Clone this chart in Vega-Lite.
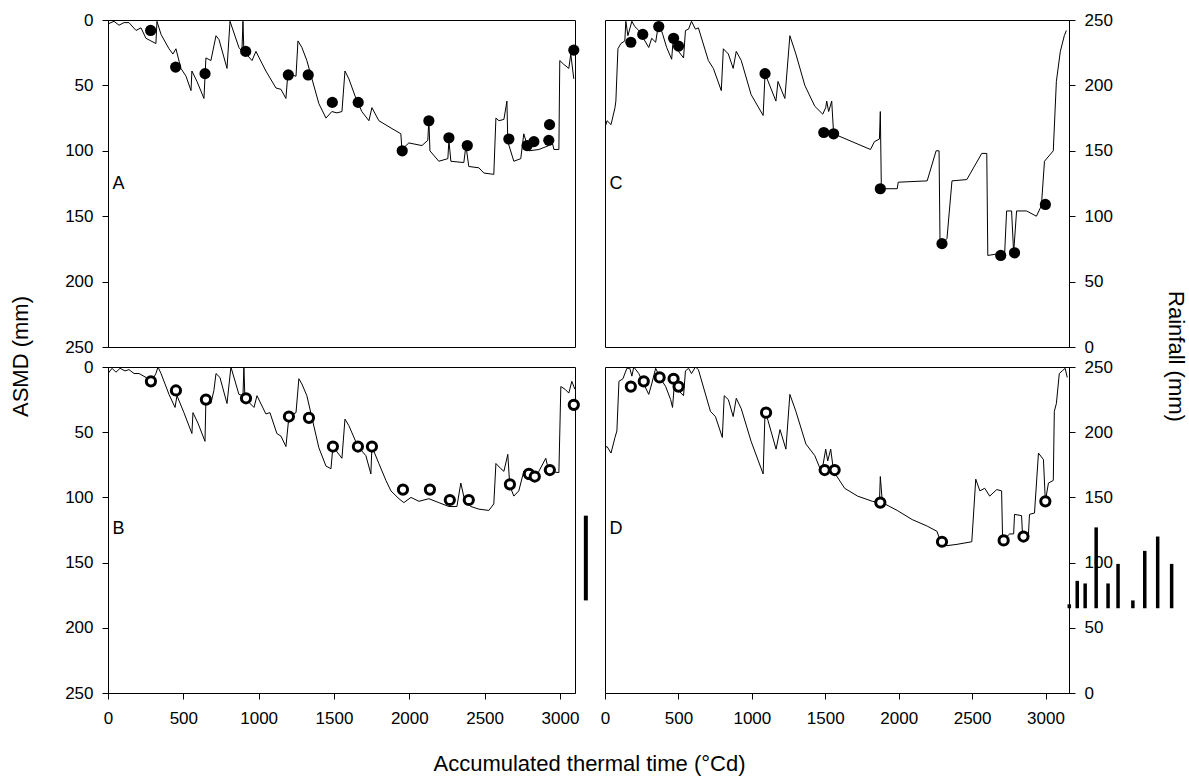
{
  "$schema": "https://vega.github.io/schema/vega-lite/v6.json",
  "background": "white",
  "padding": {"left": 8, "top": 10, "right": 5, "bottom": 5},
  "config": {
    "font": "Liberation Sans",
    "view": {"stroke": "black", "strokeWidth": 1},
    "axis": {"domainColor": "black", "tickColor": "black", "labelColor": "black", "titleColor": "black", "grid": false, "labelFontSize": 17, "titleFontSize": 22, "titleFontWeight": "normal", "tickSize": 6, "labelPadding": 9, "labelFlush": false, "labelOverlap": false, "domainWidth": 1, "tickWidth": 1, "format": "d"}
  },
  "datasets": {
    "lineA": [
      {"t":0,"asmd":3},{"t":40,"asmd":1},{"t":73,"asmd":4},{"t":106,"asmd":2},{"t":139,"asmd":2},{"t":186,"asmd":8},{"t":219,"asmd":6},{"t":252,"asmd":14},{"t":285,"asmd":16},{"t":318,"asmd":18},{"t":325,"asmd":1},{"t":352,"asmd":11},{"t":405,"asmd":22},{"t":431,"asmd":26},{"t":451,"asmd":22},{"t":484,"asmd":37},{"t":518,"asmd":43},{"t":551,"asmd":54},{"t":557,"asmd":39},{"t":591,"asmd":47},{"t":637,"asmd":60},{"t":650,"asmd":29},{"t":683,"asmd":31},{"t":717,"asmd":12},{"t":737,"asmd":15},{"t":790,"asmd":37},{"t":810,"asmd":1},{"t":869,"asmd":21},{"t":889,"asmd":24},{"t":896,"asmd":1},{"t":902,"asmd":24},{"t":956,"asmd":31},{"t":982,"asmd":24},{"t":1048,"asmd":39},{"t":1115,"asmd":52},{"t":1148,"asmd":53},{"t":1181,"asmd":60},{"t":1194,"asmd":41},{"t":1248,"asmd":43},{"t":1261,"asmd":16},{"t":1287,"asmd":21},{"t":1320,"asmd":31},{"t":1400,"asmd":64},{"t":1447,"asmd":75},{"t":1486,"asmd":70},{"t":1520,"asmd":71},{"t":1553,"asmd":70},{"t":1573,"asmd":39},{"t":1599,"asmd":45},{"t":1646,"asmd":60},{"t":1685,"asmd":70},{"t":1732,"asmd":77},{"t":1752,"asmd":67},{"t":1798,"asmd":77},{"t":1885,"asmd":83},{"t":1944,"asmd":87},{"t":1951,"asmd":99},{"t":1997,"asmd":94},{"t":2084,"asmd":96},{"t":2123,"asmd":92},{"t":2130,"asmd":76},{"t":2137,"asmd":100},{"t":2196,"asmd":108},{"t":2256,"asmd":106},{"t":2263,"asmd":92},{"t":2276,"asmd":108},{"t":2362,"asmd":109},{"t":2376,"asmd":96},{"t":2395,"asmd":112},{"t":2462,"asmd":113},{"t":2495,"asmd":117},{"t":2561,"asmd":118},{"t":2575,"asmd":75},{"t":2595,"asmd":77},{"t":2628,"asmd":76},{"t":2648,"asmd":62},{"t":2654,"asmd":93},{"t":2694,"asmd":108},{"t":2740,"asmd":106},{"t":2760,"asmd":87},{"t":2794,"asmd":100},{"t":2860,"asmd":99},{"t":2926,"asmd":96},{"t":2940,"asmd":89},{"t":2960,"asmd":99},{"t":2993,"asmd":99},{"t":2999,"asmd":31},{"t":3026,"asmd":34},{"t":3059,"asmd":37},{"t":3072,"asmd":26},{"t":3092,"asmd":45}
    ],
    "ptsA": [
      {"t":283,"asmd":8},{"t":449,"asmd":36},{"t":644,"asmd":41},{"t":914,"asmd":24},{"t":1197,"asmd":42},{"t":1329,"asmd":42},{"t":1489,"asmd":63},{"t":1661,"asmd":63},{"t":1953,"asmd":100},{"t":2130,"asmd":77},{"t":2263,"asmd":90},{"t":2385,"asmd":96},{"t":2661,"asmd":91},{"t":2782,"asmd":96},{"t":2827,"asmd":93},{"t":2926,"asmd":92},{"t":2931,"asmd":80},{"t":3092,"asmd":23}
    ],
    "lineB": [
      {"t":0,"asmd":5},{"t":27,"asmd":1},{"t":53,"asmd":4},{"t":80,"asmd":1},{"t":113,"asmd":3},{"t":139,"asmd":2},{"t":173,"asmd":5},{"t":206,"asmd":5},{"t":252,"asmd":8},{"t":285,"asmd":12},{"t":318,"asmd":5},{"t":332,"asmd":0},{"t":352,"asmd":5},{"t":405,"asmd":21},{"t":445,"asmd":31},{"t":458,"asmd":22},{"t":504,"asmd":35},{"t":557,"asmd":51},{"t":564,"asmd":35},{"t":597,"asmd":43},{"t":644,"asmd":57},{"t":650,"asmd":25},{"t":683,"asmd":28},{"t":703,"asmd":18},{"t":717,"asmd":5},{"t":743,"asmd":8},{"t":790,"asmd":28},{"t":816,"asmd":0},{"t":869,"asmd":21},{"t":896,"asmd":22},{"t":902,"asmd":0},{"t":909,"asmd":24},{"t":969,"asmd":31},{"t":989,"asmd":22},{"t":1048,"asmd":36},{"t":1075,"asmd":35},{"t":1121,"asmd":51},{"t":1148,"asmd":53},{"t":1181,"asmd":61},{"t":1201,"asmd":38},{"t":1248,"asmd":35},{"t":1267,"asmd":9},{"t":1287,"asmd":13},{"t":1320,"asmd":22},{"t":1400,"asmd":62},{"t":1447,"asmd":76},{"t":1480,"asmd":78},{"t":1493,"asmd":61},{"t":1513,"asmd":64},{"t":1553,"asmd":70},{"t":1573,"asmd":40},{"t":1599,"asmd":45},{"t":1659,"asmd":61},{"t":1712,"asmd":68},{"t":1745,"asmd":82},{"t":1752,"asmd":61},{"t":1798,"asmd":74},{"t":1845,"asmd":87},{"t":1878,"asmd":95},{"t":1931,"asmd":101},{"t":1964,"asmd":104},{"t":2011,"asmd":100},{"t":2064,"asmd":103},{"t":2130,"asmd":101},{"t":2196,"asmd":104},{"t":2263,"asmd":107},{"t":2316,"asmd":107},{"t":2342,"asmd":89},{"t":2369,"asmd":103},{"t":2409,"asmd":107},{"t":2462,"asmd":109},{"t":2528,"asmd":110},{"t":2561,"asmd":105},{"t":2575,"asmd":74},{"t":2608,"asmd":78},{"t":2628,"asmd":80},{"t":2654,"asmd":67},{"t":2667,"asmd":91},{"t":2694,"asmd":99},{"t":2727,"asmd":95},{"t":2760,"asmd":80},{"t":2780,"asmd":86},{"t":2827,"asmd":87},{"t":2860,"asmd":80},{"t":2906,"asmd":70},{"t":2926,"asmd":80},{"t":2993,"asmd":81},{"t":3006,"asmd":15},{"t":3033,"asmd":17},{"t":3059,"asmd":20},{"t":3079,"asmd":11},{"t":3099,"asmd":17}
    ],
    "ptsB": [
      {"t":285,"asmd":11},{"t":451,"asmd":18},{"t":650,"asmd":25},{"t":916,"asmd":24},{"t":1201,"asmd":38},{"t":1334,"asmd":39},{"t":1493,"asmd":61},{"t":1659,"asmd":61},{"t":1752,"asmd":61},{"t":1958,"asmd":94},{"t":2137,"asmd":94},{"t":2269,"asmd":102},{"t":2395,"asmd":102},{"t":2668,"asmd":90},{"t":2794,"asmd":82},{"t":2833,"asmd":84},{"t":2933,"asmd":79},{"t":3092,"asmd":29}
    ],
    "lineC": [
      {"t":0,"asmd":82},{"t":14,"asmd":77},{"t":41,"asmd":80},{"t":68,"asmd":67},{"t":74,"asmd":62},{"t":88,"asmd":22},{"t":108,"asmd":18},{"t":135,"asmd":16},{"t":142,"asmd":1},{"t":156,"asmd":12},{"t":183,"asmd":1},{"t":203,"asmd":5},{"t":230,"asmd":8},{"t":298,"asmd":21},{"t":318,"asmd":14},{"t":345,"asmd":17},{"t":366,"asmd":2},{"t":393,"asmd":11},{"t":420,"asmd":21},{"t":454,"asmd":30},{"t":467,"asmd":11},{"t":501,"asmd":24},{"t":535,"asmd":29},{"t":548,"asmd":8},{"t":569,"asmd":7},{"t":589,"asmd":1},{"t":616,"asmd":7},{"t":636,"asmd":6},{"t":704,"asmd":31},{"t":738,"asmd":37},{"t":792,"asmd":54},{"t":806,"asmd":22},{"t":840,"asmd":26},{"t":873,"asmd":37},{"t":894,"asmd":24},{"t":928,"asmd":31},{"t":995,"asmd":57},{"t":1077,"asmd":73},{"t":1090,"asmd":41},{"t":1164,"asmd":62},{"t":1178,"asmd":47},{"t":1225,"asmd":60},{"t":1259,"asmd":12},{"t":1300,"asmd":26},{"t":1361,"asmd":50},{"t":1429,"asmd":66},{"t":1483,"asmd":72},{"t":1503,"asmd":67},{"t":1510,"asmd":62},{"t":1523,"asmd":70},{"t":1544,"asmd":62},{"t":1557,"asmd":87},{"t":1808,"asmd":99},{"t":1835,"asmd":93},{"t":1869,"asmd":91},{"t":1875,"asmd":70},{"t":1882,"asmd":129},{"t":1990,"asmd":129},{"t":1997,"asmd":124},{"t":2194,"asmd":123},{"t":2255,"asmd":100},{"t":2275,"asmd":100},{"t":2282,"asmd":173},{"t":2329,"asmd":167},{"t":2363,"asmd":123},{"t":2464,"asmd":122},{"t":2566,"asmd":102},{"t":2600,"asmd":102},{"t":2607,"asmd":180},{"t":2722,"asmd":178},{"t":2735,"asmd":146},{"t":2769,"asmd":146},{"t":2783,"asmd":178},{"t":2803,"asmd":146},{"t":2871,"asmd":146},{"t":2938,"asmd":150},{"t":2972,"asmd":142},{"t":2993,"asmd":108},{"t":3053,"asmd":100},{"t":3074,"asmd":47},{"t":3101,"asmd":24},{"t":3128,"asmd":12},{"t":3142,"asmd":8}
    ],
    "ptsC": [
      {"t":176,"asmd":17},{"t":257,"asmd":11},{"t":366,"asmd":5},{"t":467,"asmd":14},{"t":501,"asmd":20},{"t":1090,"asmd":41},{"t":1490,"asmd":86},{"t":1557,"asmd":87},{"t":1875,"asmd":129},{"t":2295,"asmd":171},{"t":2695,"asmd":180},{"t":2789,"asmd":178},{"t":2999,"asmd":141}
    ],
    "lineD": [
      {"t":0,"asmd":62},{"t":14,"asmd":61},{"t":41,"asmd":66},{"t":68,"asmd":54},{"t":81,"asmd":49},{"t":95,"asmd":11},{"t":122,"asmd":9},{"t":149,"asmd":1},{"t":169,"asmd":1},{"t":183,"asmd":7},{"t":196,"asmd":0},{"t":230,"asmd":5},{"t":298,"asmd":21},{"t":318,"asmd":13},{"t":345,"asmd":1},{"t":379,"asmd":9},{"t":413,"asmd":15},{"t":447,"asmd":25},{"t":460,"asmd":31},{"t":474,"asmd":11},{"t":501,"asmd":18},{"t":535,"asmd":22},{"t":548,"asmd":3},{"t":569,"asmd":1},{"t":589,"asmd":5},{"t":616,"asmd":0},{"t":636,"asmd":2},{"t":718,"asmd":34},{"t":752,"asmd":38},{"t":799,"asmd":54},{"t":812,"asmd":22},{"t":840,"asmd":25},{"t":873,"asmd":38},{"t":894,"asmd":24},{"t":928,"asmd":32},{"t":995,"asmd":57},{"t":1077,"asmd":82},{"t":1090,"asmd":34},{"t":1110,"asmd":41},{"t":1165,"asmd":63},{"t":1192,"asmd":48},{"t":1232,"asmd":63},{"t":1259,"asmd":21},{"t":1300,"asmd":34},{"t":1368,"asmd":59},{"t":1429,"asmd":68},{"t":1476,"asmd":81},{"t":1503,"asmd":63},{"t":1517,"asmd":72},{"t":1537,"asmd":63},{"t":1557,"asmd":80},{"t":1632,"asmd":93},{"t":1720,"asmd":99},{"t":1821,"asmd":103},{"t":1869,"asmd":104},{"t":1875,"asmd":84},{"t":1889,"asmd":104},{"t":1990,"asmd":110},{"t":2092,"asmd":117},{"t":2194,"asmd":122},{"t":2261,"asmd":126},{"t":2288,"asmd":135},{"t":2329,"asmd":137},{"t":2397,"asmd":136},{"t":2498,"asmd":134},{"t":2525,"asmd":86},{"t":2553,"asmd":95},{"t":2586,"asmd":93},{"t":2620,"asmd":99},{"t":2668,"asmd":94},{"t":2701,"asmd":95},{"t":2708,"asmd":133},{"t":2756,"asmd":128},{"t":2783,"asmd":128},{"t":2789,"asmd":113},{"t":2837,"asmd":114},{"t":2844,"asmd":130},{"t":2884,"asmd":128},{"t":2891,"asmd":113},{"t":2925,"asmd":112},{"t":2952,"asmd":66},{"t":2986,"asmd":71},{"t":2999,"asmd":103},{"t":3020,"asmd":89},{"t":3053,"asmd":87},{"t":3060,"asmd":34},{"t":3074,"asmd":28},{"t":3094,"asmd":5},{"t":3114,"asmd":3},{"t":3134,"asmd":1},{"t":3148,"asmd":8}
    ],
    "ptsD": [
      {"t":176,"asmd":15},{"t":264,"asmd":11},{"t":372,"asmd":8},{"t":467,"asmd":9},{"t":501,"asmd":15},{"t":1097,"asmd":35},{"t":1496,"asmd":79},{"t":1564,"asmd":79},{"t":1875,"asmd":104},{"t":2295,"asmd":134},{"t":2715,"asmd":133},{"t":2850,"asmd":130},{"t":2999,"asmd":103}
    ],
    "rain": [
      {"panel":"B","t":3172,"lo":71,"hi":136},
      {"panel":"D","t":3162,"lo":65,"hi":68},{"panel":"D","t":3216,"lo":65,"hi":86},{"panel":"D","t":3270,"lo":65,"hi":84},{"panel":"D","t":3345,"lo":65,"hi":127},{"panel":"D","t":3426,"lo":65,"hi":84},{"panel":"D","t":3494,"lo":65,"hi":99},{"panel":"D","t":3595,"lo":65,"hi":71},{"panel":"D","t":3676,"lo":65,"hi":109},{"panel":"D","t":3764,"lo":65,"hi":120},{"panel":"D","t":3859,"lo":65,"hi":99}
    ],
    "labels": [
      {"panel":"A","t":30,"asmd":125,"text":"A"},{"panel":"B","t":30,"asmd":124,"text":"B"},{"panel":"C","t":30,"asmd":125,"text":"C"},{"panel":"D","t":30,"asmd":124,"text":"D"}
    ]
  },
  "columns": 2,
  "spacing": {"row": 20, "column": 30},
  "bounds": "flush",
  "concat": [
    {
      "width": 467, "height": 327,
      "layer": [
        {"data": {"name": "lineA"}, "mark": {"type": "line", "color": "black", "strokeWidth": 1, "clip": true},
         "encoding": {
           "x": {"field": "t", "type": "quantitative", "scale": {"domain": [0, 3100], "nice": false}, "axis": null},
           "y": {"field": "asmd", "type": "quantitative", "scale": {"domain": [0, 250], "reverse": true, "nice": false},
                 "axis": {"orient": "left", "values": [0, 50, 100, 150, 200, 250], "title": "ASMD (mm)", "titleX": -88, "titleY": 336, "titleAngle": 270, "titleBaseline": "middle", "titleAlign": "center"}}}},
        {"data": {"name": "ptsA"}, "mark": {"type": "point", "shape": "circle", "filled": true, "color": "black", "size": 125, "opacity": 1},
         "encoding": {"x": {"field": "t", "type": "quantitative"}, "y": {"field": "asmd", "type": "quantitative"}}},
        {"data": {"name": "labels"}, "transform": [{"filter": "datum.panel === 'A'"}], "mark": {"type": "text", "align": "left", "baseline": "middle", "fontSize": 18, "color": "black"},
         "encoding": {"x": {"field": "t", "type": "quantitative"}, "y": {"field": "asmd", "type": "quantitative"}, "text": {"field": "text"}}}
      ]
    },
    {
      "width": 464, "height": 327,
      "layer": [
        {"data": {"name": "lineC"}, "mark": {"type": "line", "color": "black", "strokeWidth": 1, "clip": true},
         "encoding": {
           "x": {"field": "t", "type": "quantitative", "scale": {"domain": [0, 3160], "nice": false}, "axis": null},
           "y": {"field": "asmd", "type": "quantitative", "scale": {"domain": [0, 250], "reverse": true, "nice": false}, "axis": null}}},
        {"data": {"name": "ptsC"}, "mark": {"type": "point", "shape": "circle", "filled": true, "color": "black", "size": 125, "opacity": 1},
         "encoding": {"x": {"field": "t", "type": "quantitative"}, "y": {"field": "asmd", "type": "quantitative", "scale": {"domain": [0, 250], "reverse": true, "nice": false}, "axis": null}}},
        {"data": {"name": "labels"}, "transform": [{"filter": "datum.panel === 'C'"}], "mark": {"type": "text", "align": "left", "baseline": "middle", "fontSize": 18, "color": "black"},
         "encoding": {"x": {"field": "t", "type": "quantitative"}, "y": {"field": "asmd", "type": "quantitative", "scale": {"domain": [0, 250], "reverse": true, "nice": false}, "axis": null}, "text": {"field": "text"}}},
        {"data": {"name": "rain"}, "transform": [{"filter": "datum.panel === 'C'"}], "mark": {"type": "rule", "color": "black", "strokeWidth": 3.5},
         "encoding": {"x": {"field": "t", "type": "quantitative"},
           "y": {"field": "lo", "type": "quantitative", "scale": {"domain": [0, 250], "nice": false},
                 "axis": {"orient": "right", "values": [0, 50, 100, 150, 200, 250], "title": "Rainfall (mm)", "titleX": 106, "titleY": 336, "titleAngle": 90, "titleBaseline": "middle", "titleAlign": "center"}},
           "y2": {"field": "hi"}}}
      ],
      "resolve": {"scale": {"y": "independent"}, "axis": {"y": "independent"}}
    },
    {
      "width": 467, "height": 326,
      "layer": [
        {"data": {"name": "lineB"}, "mark": {"type": "line", "color": "black", "strokeWidth": 1, "clip": true},
         "encoding": {
           "x": {"field": "t", "type": "quantitative", "scale": {"domain": [0, 3100], "nice": false},
                 "axis": {"values": [0, 500, 1000, 1500, 2000, 2500, 3000], "labelPadding": 11, "title": "Accumulated thermal time (°Cd)", "titleX": 481, "titleY": 70, "titleBaseline": "middle", "titleAlign": "center"}},
           "y": {"field": "asmd", "type": "quantitative", "scale": {"domain": [0, 250], "reverse": true, "nice": false},
                 "axis": {"orient": "left", "values": [0, 50, 100, 150, 200, 250], "title": null}}}},
        {"data": {"name": "ptsB"}, "mark": {"type": "point", "shape": "circle", "filled": true, "fill": "white", "stroke": "black", "strokeWidth": 3, "size": 85, "opacity": 1},
         "encoding": {"x": {"field": "t", "type": "quantitative"}, "y": {"field": "asmd", "type": "quantitative", "scale": {"domain": [0, 250], "reverse": true, "nice": false}, "axis": null}}},
        {"data": {"name": "labels"}, "transform": [{"filter": "datum.panel === 'B'"}], "mark": {"type": "text", "align": "left", "baseline": "middle", "fontSize": 18, "color": "black"},
         "encoding": {"x": {"field": "t", "type": "quantitative"}, "y": {"field": "asmd", "type": "quantitative", "scale": {"domain": [0, 250], "reverse": true, "nice": false}, "axis": null}, "text": {"field": "text"}}},
        {"data": {"name": "rain"}, "transform": [{"filter": "datum.panel === 'B'"}], "mark": {"type": "rule", "color": "black", "strokeWidth": 4},
         "encoding": {"x": {"field": "t", "type": "quantitative"},
           "y": {"field": "lo", "type": "quantitative", "scale": {"domain": [0, 250], "nice": false}, "axis": null},
           "y2": {"field": "hi"}}}
      ],
      "resolve": {"scale": {"y": "independent"}, "axis": {"y": "independent"}}
    },
    {
      "width": 464, "height": 326,
      "layer": [
        {"data": {"name": "lineD"}, "mark": {"type": "line", "color": "black", "strokeWidth": 1, "clip": true},
         "encoding": {
           "x": {"field": "t", "type": "quantitative", "scale": {"domain": [0, 3160], "nice": false},
                 "axis": {"values": [0, 500, 1000, 1500, 2000, 2500, 3000], "labelPadding": 11, "title": null}},
           "y": {"field": "asmd", "type": "quantitative", "scale": {"domain": [0, 250], "reverse": true, "nice": false}, "axis": null}}},
        {"data": {"name": "ptsD"}, "mark": {"type": "point", "shape": "circle", "filled": true, "fill": "white", "stroke": "black", "strokeWidth": 3, "size": 85, "opacity": 1},
         "encoding": {"x": {"field": "t", "type": "quantitative"}, "y": {"field": "asmd", "type": "quantitative", "scale": {"domain": [0, 250], "reverse": true, "nice": false}, "axis": null}}},
        {"data": {"name": "labels"}, "transform": [{"filter": "datum.panel === 'D'"}], "mark": {"type": "text", "align": "left", "baseline": "middle", "fontSize": 18, "color": "black"},
         "encoding": {"x": {"field": "t", "type": "quantitative"}, "y": {"field": "asmd", "type": "quantitative", "scale": {"domain": [0, 250], "reverse": true, "nice": false}, "axis": null}, "text": {"field": "text"}}},
        {"data": {"name": "rain"}, "transform": [{"filter": "datum.panel === 'D'"}], "mark": {"type": "rule", "color": "black", "strokeWidth": 3.5},
         "encoding": {"x": {"field": "t", "type": "quantitative"},
           "y": {"field": "lo", "type": "quantitative", "scale": {"domain": [0, 250], "nice": false},
                 "axis": {"orient": "right", "values": [0, 50, 100, 150, 200, 250], "title": null}},
           "y2": {"field": "hi"}}}
      ],
      "resolve": {"scale": {"y": "independent"}, "axis": {"y": "independent"}}
    }
  ]
}
